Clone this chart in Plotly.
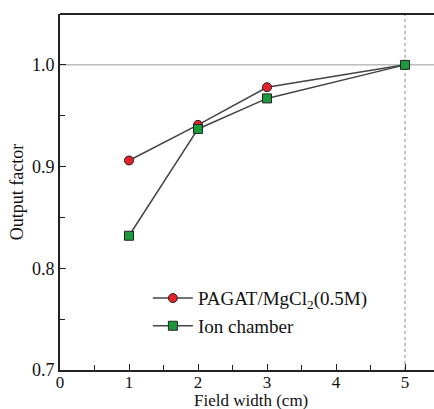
import plotly.graph_objects as go

field_width = [1, 2, 3, 5]
pagat = [0.906, 0.941, 0.978, 1.0]
ion_chamber = [0.832, 0.937, 0.967, 1.0]
x_ticks = [0, 1, 2, 3, 4, 5]
y_ticks = [0.7, 0.8, 0.9, 1.0]

font = "Liberation Serif"
fig = go.Figure()
fig.add_trace(go.Scatter(
    x=field_width, y=pagat, mode="lines+markers",
    name="PAGAT/MgCl<sub>2</sub>(0.5M)",
    line=dict(color="#444444", width=1.5),
    marker=dict(symbol="circle", size=9, color="#e8202a", line=dict(color="#222", width=1)),
))
fig.add_trace(go.Scatter(
    x=field_width, y=ion_chamber, mode="lines+markers",
    name="Ion chamber",
    line=dict(color="#444444", width=1.5),
    marker=dict(symbol="square", size=9, color="#1a9a3a", line=dict(color="#222", width=1)),
))
fig.add_shape(type="line", xref="paper", yref="y", x0=0, x1=1, y0=1.0, y1=1.0,
              line=dict(color="#999999", width=1), layer="below")
fig.add_shape(type="line", xref="x", yref="paper", x0=5, x1=5, y0=0, y1=1,
              line=dict(color="#888888", width=1, dash="dot"), layer="below")

fig.update_layout(
    width=434, height=409,
    margin=dict(l=60, r=0, t=14, b=39),
    paper_bgcolor="white", plot_bgcolor="white",
    font=dict(family=font, size=18, color="#111"),
    showlegend=True,
    legend=dict(x=0.235, y=0.255, xanchor="left", yanchor="top",
                bgcolor="rgba(0,0,0,0)", font=dict(size=19, family=font),
                tracegroupgap=0, itemwidth=40),
    xaxis=dict(range=[0, 5.42], tickvals=x_ticks, ticks="inside", ticklen=6,
               tickcolor="#222", showgrid=False, zeroline=False,
               showline=True, linecolor="#222", linewidth=2, mirror=False,
               minor=dict(dtick=0.5, ticks="inside", ticklen=5, tickcolor="#222", showgrid=False),
               ticklabelstandoff=-4,
               tickfont=dict(size=17)),
    yaxis=dict(range=[0.7, 1.05], tickvals=y_ticks, tickformat=".1f", ticks="inside", ticklen=6,
               tickcolor="#222", showgrid=False, zeroline=False,
               showline=True, linecolor="#222", linewidth=2,
               minor=dict(dtick=0.05, ticks="inside", ticklen=5, tickcolor="#222", showgrid=False),
               title=dict(text="Output factor", standoff=4, font=dict(size=18)),
               tickfont=dict(size=18)),
    annotations=[dict(text="Field width (cm)", xref="paper", yref="paper",
                      x=(251 - 60) / 374, y=-0.085, xanchor="center", yanchor="middle",
                      showarrow=False, font=dict(size=17, family=font))],
)
# top border
fig.add_shape(type="line", xref="paper", yref="paper", x0=0, x1=1, y0=1, y1=1,
              line=dict(color="#222", width=2))
fig.write_html("out.html")
